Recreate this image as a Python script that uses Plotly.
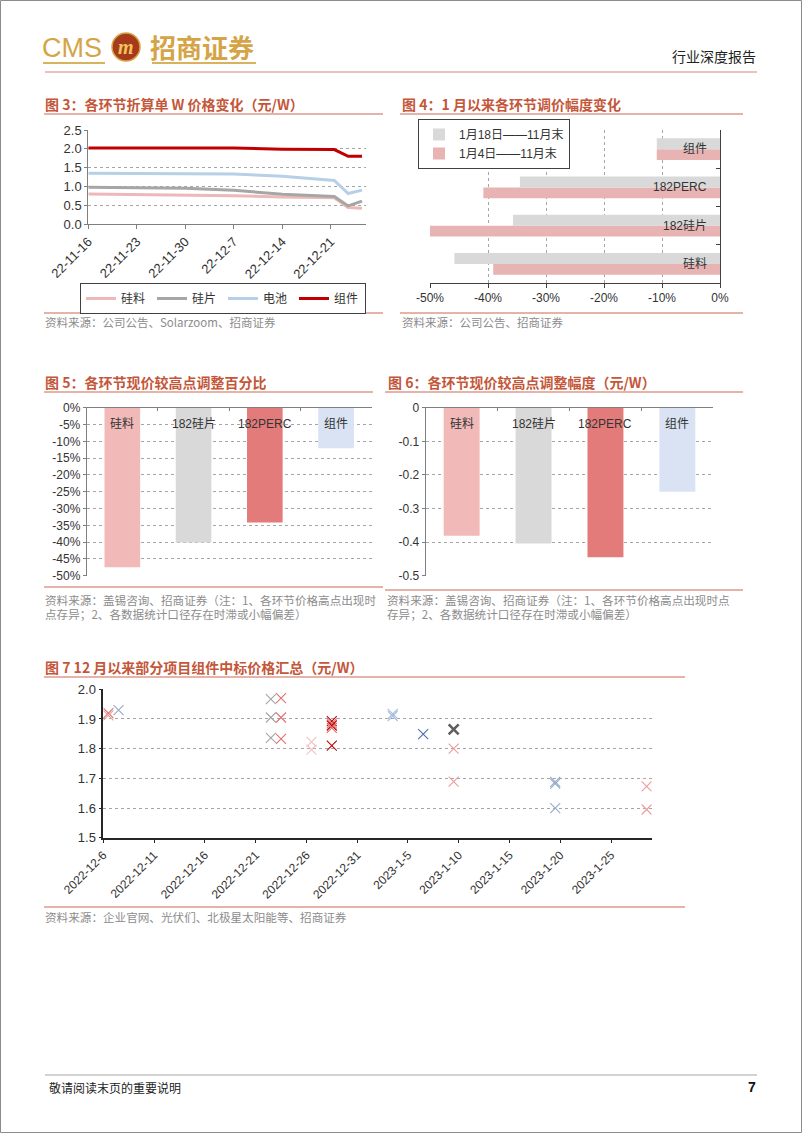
import plotly.graph_objects as go

W, H = 802, 1133

# ---------------- data ----------------
# Fig 3: price per W of each segment
dates3 = ["2022-11-16", "2022-11-23", "2022-11-30", "2022-12-07", "2022-12-14",
          "2022-12-21 12:00", "2022-12-23 12:00", "2022-12-25 12:00"]
silicon3 = [0.80, 0.79, 0.77, 0.75, 0.72, 0.70, 0.44, 0.42]
wafer3 = [0.98, 0.97, 0.95, 0.90, 0.79, 0.73, 0.48, 0.61]
cell3 = [1.35, 1.35, 1.35, 1.33, 1.27, 1.16, 0.81, 0.90]
module3 = [2.02, 2.02, 2.02, 2.02, 1.99, 1.98, 1.80, 1.80]
names3 = ["硅料", "硅片", "电池", "组件"]
xtickvals3 = ["2022-11-16", "2022-11-23", "2022-11-30", "2022-12-07", "2022-12-14", "2022-12-21"]
xticktext3 = ["22-11-16", "22-11-23", "22-11-30", "22-12-7", "22-12-14", "22-12-21"]

# Fig 4: price change since January
cats4 = ["硅料", "182硅片", "182PERC", "组件"]
jan18_4 = [-0.458, -0.357, -0.345, -0.109]
jan4_4 = [-0.391, -0.500, -0.408, -0.109]
series4 = ["1月18日——11月末", "1月4日——11月末"]
xtickvals4 = [-0.5, -0.4, -0.3, -0.2, -0.1, 0.0]
xticktext4 = ["-50%", "-40%", "-30%", "-20%", "-10%", "0%"]

# Fig 5: percentage adjustment from the high
cats5 = ["硅料", "182硅片", "182PERC", "组件"]
pct5 = [-0.475, -0.401, -0.342, -0.121]
ytickvals5 = [0, -0.05, -0.10, -0.15, -0.20, -0.25, -0.30, -0.35, -0.40, -0.45, -0.50]
yticktext5 = ["0%", "-5%", "-10%", "-15%", "-20%", "-25%", "-30%", "-35%", "-40%", "-45%", "-50%"]

# Fig 6: absolute adjustment from the high (yuan/W)
cats6 = ["硅料", "182硅片", "182PERC", "组件"]
abs6 = [-0.381, -0.404, -0.445, -0.250]
ytickvals6 = [0, -0.1, -0.2, -0.3, -0.4, -0.5]
yticktext6 = ["0", "-0.1", "-0.2", "-0.3", "-0.4", "-0.5"]

# Fig 7: module bid prices since December
dates7 = ["2022-12-06", "2022-12-06", "2022-12-07",
          "2022-12-22", "2022-12-22", "2022-12-22",
          "2022-12-23", "2022-12-23", "2022-12-23",
          "2022-12-26", "2022-12-26",
          "2022-12-28", "2022-12-28", "2022-12-28", "2022-12-28", "2022-12-28",
          "2023-01-03", "2023-01-03", "2023-01-06",
          "2023-01-09", "2023-01-09", "2023-01-09",
          "2023-01-19", "2023-01-19", "2023-01-19",
          "2023-01-28", "2023-01-28"]
price7 = [1.920, 1.912, 1.930,
          1.967, 1.905, 1.836,
          1.970, 1.905, 1.833,
          1.823, 1.797,
          1.893, 1.885, 1.878, 1.870, 1.810,
          1.917, 1.910, 1.849,
          1.865, 1.800, 1.689,
          1.688, 1.682, 1.600,
          1.673, 1.595]
group7 = ["red", "pink", "bluegray",
          "gray", "gray", "gray",
          "red", "red", "red",
          "lightpink", "lightpink",
          "darkred", "red", "darkred", "red", "darkred",
          "lightblue", "lightblue", "blue",
          "darkgray", "pink", "pink",
          "bluegray", "bluegray", "bluegray",
          "pink", "pink"]
xtickvals7 = ["2022-12-06", "2022-12-11", "2022-12-16", "2022-12-21", "2022-12-26", "2022-12-31",
              "2023-01-05", "2023-01-10", "2023-01-15", "2023-01-20", "2023-01-25"]
xticktext7 = ["2022-12-6", "2022-12-11", "2022-12-16", "2022-12-21", "2022-12-26", "2022-12-31",
              "2023-1-5", "2023-1-10", "2023-1-15", "2023-1-20", "2023-1-25"]

# ---------------- styles ----------------
LAT = "Liberation Sans, Noto Sans CJK SC, sans-serif"
CJK = "Noto Sans CJK SC, sans-serif"
TXT = "#333333"
AXL = "#7F7F7F"
GRID = "#A6A6A6"
TITLE_C = "#C4573A"
RULE_C = "#DC9A8A"
SRC_C = "#8C8C8C"
GOLD = "#D4A447"

colors3 = ["#EDB8B8", "#A6A6A6", "#B7D0E8", "#C00000"]
color4 = {"gray": "#D9D9D9", "pink": "#E8B3B3"}
colors5 = ["#F2B9B9", "#D9D9D9", "#E47B7B", "#DAE3F3"]
color7 = {"red": "#E07070", "pink": "#EC9C9C", "lightpink": "#F2C2C2", "gray": "#A6A6A6",
          "bluegray": "#93ABCB", "lightblue": "#A6BEE0", "blue": "#4A6FB0",
          "darkred": "#C00000", "darkgray": "#5F5F5F"}


def px(x):
    return x / W


def py(y):
    return 1 - y / H


fig = go.Figure()

# ---- Fig 3 lines ----
for name, vals, col in zip(names3, [silicon3, wafer3, cell3, module3], colors3):
    fig.add_trace(go.Scatter(x=dates3, y=vals, name=name, mode="lines",
                             line=dict(color=col, width=3), xaxis="x", yaxis="y",
                             legend="legend"))

# ---- Fig 4 bars (pink first = lower bar in each group) ----
fig.add_trace(go.Bar(y=cats4, x=jan4_4, name=series4[1], orientation="h",
                     marker=dict(color=color4["pink"], line=dict(width=0)),
                     xaxis="x2", yaxis="y2", legend="legend2"))
fig.add_trace(go.Bar(y=cats4, x=jan18_4, name=series4[0], orientation="h",
                     marker=dict(color=color4["gray"], line=dict(width=0)),
                     xaxis="x2", yaxis="y2", legend="legend2"))

# ---- Fig 5 bars ----
fig.add_trace(go.Bar(x=cats5, y=pct5, marker=dict(color=colors5, line=dict(width=0)),
                     width=0.5, xaxis="x3", yaxis="y3", showlegend=False))

# ---- Fig 6 bars ----
fig.add_trace(go.Bar(x=cats6, y=abs6, marker=dict(color=colors5, line=dict(width=0)),
                     width=0.5, xaxis="x4", yaxis="y4", showlegend=False))

# ---- Fig 7 scatter ----
fig.add_trace(go.Scatter(
    x=dates7, y=price7, mode="markers", showlegend=False,
    xperiod=86400000, xperiodalignment="middle",
    marker=dict(symbol="x-thin", size=10,
                line=dict(color=[color7[g] for g in group7],
                          width=[2.6 if g == "darkgray" else 1.1 for g in group7])),
    xaxis="x5", yaxis="y5"))

tick_font = dict(family=LAT, size=12, color=TXT)
tick_font13 = dict(family=LAT, size=13, color=TXT)

common = dict(automargin=False, zeroline=False)

layout = dict(
    template="none",
    font=dict(family=LAT, size=12, color=TXT),
    width=W, height=H, margin=dict(l=0, r=0, t=0, b=0, pad=0), autosize=False,
    paper_bgcolor="white", plot_bgcolor="white",
    barmode="group", bargap=0.43, bargroupgap=0,
    # Fig 3
    xaxis=dict(domain=[px(88.3), px(365.5)], anchor="y", type="date",
               range=["2022-11-16", "2022-12-26"], tickvals=xtickvals3, ticktext=xticktext3,
               tickangle=-45, tickfont=tick_font13, showgrid=False,
               showline=True, linecolor=AXL, linewidth=1, ticks="outside", ticklen=4,
               tickcolor=AXL, **common),
    yaxis=dict(domain=[py(224), py(130)], anchor="x", range=[0, 2.5], dtick=0.5,
               tickformat=".1f", tickfont=tick_font13, showgrid=True, gridcolor=GRID,
               griddash="dot", gridwidth=1, showline=True, linecolor=AXL,
               ticks="outside", ticklen=3, tickcolor=AXL, **common),
    # Fig 4
    xaxis2=dict(domain=[px(430), px(720)], anchor="y2", range=[-0.5, 0],
                tickvals=xtickvals4, ticktext=xticktext4, tickfont=tick_font,
                showgrid=True, gridcolor=GRID, griddash="dot",
                showline=True, linecolor="#404040", ticks="outside", ticklen=4,
                tickcolor="#404040", **common),
    yaxis2=dict(domain=[py(283), py(130)], anchor="x2", side="right", type="category",
                categoryorder="array", categoryarray=cats4, showticklabels=False,
                tickson="boundaries", ticks="inside", ticklen=4, tickcolor="#404040",
                showgrid=False, showline=True, linecolor="#404040", **common),
    # Fig 5
    xaxis3=dict(domain=[px(86.7), px(371.7)], anchor="y3", side="top", type="category",
                categoryorder="array", categoryarray=cats5, showticklabels=False,
                tickson="boundaries", ticks="inside", ticklen=3, tickcolor=AXL,
                showgrid=False, showline=True, linecolor=AXL, **common),
    yaxis3=dict(domain=[py(575.7), py(407.7)], anchor="x3", range=[-0.5, 0],
                tickvals=ytickvals5, ticktext=yticktext5, tickfont=tick_font,
                showgrid=True, gridcolor=GRID, griddash="dot",
                showline=True, linecolor=AXL, ticks="outside", ticklen=3, tickcolor=AXL,
                **common),
    # Fig 6
    xaxis4=dict(domain=[px(425.7), px(713.3)], anchor="y4", side="top", type="category",
                categoryorder="array", categoryarray=cats6, showticklabels=False,
                tickson="boundaries", ticks="inside", ticklen=3, tickcolor=AXL,
                showgrid=False, showline=True, linecolor=AXL, **common),
    yaxis4=dict(domain=[py(575.7), py(407.7)], anchor="x4", range=[-0.5, 0],
                tickvals=ytickvals6, ticktext=yticktext6, tickfont=tick_font,
                showgrid=True, gridcolor=GRID, griddash="dot",
                showline=True, linecolor=AXL, ticks="outside", ticklen=3, tickcolor=AXL,
                **common),
    # Fig 7
    xaxis5=dict(domain=[px(103.3), px(651.7)], anchor="y5", type="date",
                range=["2022-12-06", "2023-01-29"], tickvals=xtickvals7, ticktext=xticktext7,
                tickangle=-45, tickfont=tick_font, showgrid=False,
                showline=True, linecolor="#262626", linewidth=1.5, ticks="outside",
                ticklen=4, tickcolor="#262626", **common),
    yaxis5=dict(domain=[py(837.7), py(689.3)], anchor="x5", range=[1.5, 2.0], dtick=0.1,
                tickformat=".1f", tickfont=tick_font13, showgrid=True, gridcolor=GRID,
                griddash="dot", showline=True, linecolor="#262626",
                linewidth=1.5, ticks="outside", ticklen=3, tickcolor="#262626", **common),
    legend=dict(x=px(80), y=py(283), xanchor="left", yanchor="top", orientation="h",
                bordercolor="#404040", borderwidth=1, bgcolor="white",
                font=dict(family=CJK, size=12, color=TXT), entrywidth=26,
                entrywidthmode="pixels", itemwidth=30, tracegroupgap=0),
    legend2=dict(x=px(418), y=py(119), xanchor="left", yanchor="top", orientation="v",
                 traceorder="reversed", bordercolor="#404040", borderwidth=1,
                 bgcolor="white", font=dict(family=LAT, size=12, color=TXT),
                 itemwidth=30, tracegroupgap=0),
)
fig.update_layout(**layout)

shapes = []
annotations = []

# category labels placed inside the plots (tied to data coordinates)
for c in cats4:
    annotations.append(dict(xref="x2", yref="y2", x=0, y=c, text=c, showarrow=False,
                            xanchor="right", yanchor="middle", xshift=-11,
                            font=dict(family=LAT, size=12, color=TXT)))
for c in cats5:
    annotations.append(dict(xref="x3", yref="y3", x=c, y=0, text=c, showarrow=False,
                            xanchor="center", yanchor="top", yshift=-7,
                            font=dict(family=LAT, size=12, color=TXT)))
for c in cats6:
    annotations.append(dict(xref="x4", yref="y4", x=c, y=0, text=c, showarrow=False,
                            xanchor="center", yanchor="top", yshift=-7,
                            font=dict(family=LAT, size=12, color=TXT)))


def hline(x0, x1, y, color, width=1):
    shapes.append(dict(type="line", xref="paper", yref="paper", x0=px(x0), x1=px(x1),
                       y0=py(y), y1=py(y), line=dict(color=color, width=width)))


def text(x, y, s, size=12, color=TXT, family=CJK, anchor="left", weight="normal"):
    annotations.append(dict(xref="paper", yref="paper", x=px(x), y=py(y), text=s,
                            showarrow=False, xanchor=anchor, yanchor="middle",
                            font=dict(family=family, size=size, color=color, weight=weight),
                            borderpad=0))


# page frame
shapes.append(dict(type="rect", xref="paper", yref="paper", x0=px(0.5), x1=px(801.5),
                   y0=py(1132.5), y1=py(0.5), line=dict(color="#8C8C8C", width=1)))

# header
text(41, 48, "CMS", size=27, color=GOLD, family="Liberation Sans Narrow, Liberation Sans")
shapes.append(dict(type="circle", xref="paper", yref="paper", x0=px(112), x1=px(140),
                   y0=py(61), y1=py(33), fillcolor="#A83A1C",
                   line=dict(color=GOLD, width=1.5)))
text(126, 47, "<i>m</i>", size=20, color="#F2C55C", family="Liberation Serif", anchor="center",
     weight="bold")
text(149, 47, "招商证券", size=26, color=GOLD, weight="bold")
hline(43, 105, 63, "#D8B25C", 2)
hline(152, 256, 63, "#D8B25C", 2)
text(757, 56, "行业深度报告", size=14, color="#222222", anchor="right")
hline(45, 757, 72, "#D98478", 1)

# figure titles & rules
text(44, 104, "图 3：各环节折算单 W 价格变化（元/W）", size=14, color=TITLE_C, weight="bold")
text(401, 104, "图 4：1 月以来各环节调价幅度变化", size=14, color=TITLE_C, weight="bold")
hline(44, 383, 114, RULE_C, 1.5)
hline(400, 743, 114, RULE_C, 1.5)

text(44, 382, "图 5：各环节现价较高点调整百分比", size=14, color=TITLE_C, weight="bold")
text(387, 382, "图 6：各环节现价较高点调整幅度（元/W）", size=14, color=TITLE_C, weight="bold")
hline(44, 373, 392, RULE_C, 1.5)
hline(385, 743, 392, RULE_C, 1.5)

text(44, 667, "图 7 12 月以来部分项目组件中标价格汇总（元/W）", size=14, color=TITLE_C, weight="bold")
hline(44, 685, 677, RULE_C, 1.5)

# source lines & texts
hline(44, 383, 313, RULE_C, 1.5)
hline(400, 743, 313, RULE_C, 1.5)
text(44, 322, "资料来源：公司公告、Solarzoom、招商证券", size=11.5, color=SRC_C)
text(401, 322, "资料来源：公司公告、招商证券", size=11.5, color=SRC_C)

hline(44, 383, 587, RULE_C, 1.5)
hline(385, 743, 590, RULE_C, 1.5)
text(44, 600, "资料来源：盖锡咨询、招商证券（注：1、各环节价格高点出现时", size=11.6, color=SRC_C)
text(44, 614, "点存异；2、各数据统计口径存在时滞或小幅偏差）", size=11.6, color=SRC_C)
text(386, 600, "资料来源：盖锡咨询、招商证券（注：1、各环节价格高点出现时点", size=11.6, color=SRC_C)
text(386, 614, "存异；2、各数据统计口径存在时滞或小幅偏差）", size=11.6, color=SRC_C)

hline(44, 685, 907, RULE_C, 1.5)
text(44, 917, "资料来源：企业官网、光伏们、北极星太阳能等、招商证券", size=11.6, color=SRC_C)

# footer
hline(45, 757, 1075, "#A6A6A6", 1)
text(48, 1087, "敬请阅读末页的重要说明", size=12, color="#222222")
text(757, 1087, "7", size=14, color="#111111", family=LAT, anchor="right", weight="bold")

fig.update_layout(shapes=shapes, annotations=annotations)
fig.write_html("out.html")
